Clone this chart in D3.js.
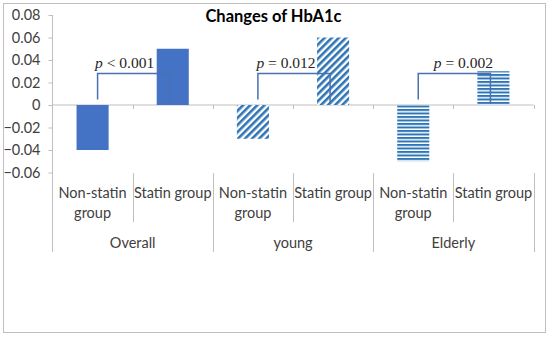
<!DOCTYPE html>
<html lang="en">
    <head>
        <meta charset="utf-8">
        <title>Changes of HbA1c</title>
        <script src="https://d3js.org/d3.v7.min.js"></script>
        <style type="text/css">
            body { margin: 0; background: #fff; }
            text { font-family: Lato, "Noto Sans", sans-serif; fill: #404040; }
        </style>
    </head>
    <body>
        <svg id="chart" width="550" height="337"></svg>
        <script>
            //Data
            var groups = ['Overall', 'young', 'Elderly'];
            var subgroups = ['Non-statin group', 'Statin group'];
            var nonStatin = [-0.04, -0.03, -0.05];
            var statin = [0.05, 0.06, 0.03];
            var pLabels = ['< 0.001', '= 0.012', '= 0.002'];
            var yTicks = [0.08, 0.06, 0.04, 0.02, 0, -0.02, -0.04, -0.06];
            var fills = ['url(#solid)', 'url(#diag)', 'url(#horiz)'];

            var svg = d3.select('#chart');

            //outer frame
            svg.append('rect')
               .attr('x', 3.5).attr('y', 3.5)
               .attr('width', 542).attr('height', 329)
               .attr('fill', '#fff')
               .attr('stroke', '#bfbfbf');

            //patterns
            var defs = svg.append('defs');
            defs.append('pattern').attr('id', 'solid')
                .attr('patternUnits', 'userSpaceOnUse')
                .attr('width', 4).attr('height', 4)
              .append('rect').attr('width', 4).attr('height', 4).attr('fill', '#4472c4');

            var diag = defs.append('pattern').attr('id', 'diag')
                .attr('patternUnits', 'userSpaceOnUse')
                .attr('width', 5).attr('height', 5)
                .attr('patternTransform', 'rotate(45)');
            diag.append('rect').attr('width', 5).attr('height', 5).attr('fill', '#fff');
            diag.append('rect').attr('width', 2.6).attr('height', 5).attr('fill', '#2e75b6');

            var horiz = defs.append('pattern').attr('id', 'horiz')
                .attr('patternUnits', 'userSpaceOnUse')
                .attr('width', 4).attr('height', 3.5)
                .attr('y', 0.5);
            horiz.append('rect').attr('width', 4).attr('height', 3.5).attr('fill', '#fff');
            horiz.append('rect').attr('width', 4).attr('height', 2).attr('fill', '#2e75b6');

            //scales
            var x0 = d3.scaleBand().domain(groups).range([52.5, 533.5]);
            var x1 = d3.scaleBand().domain(subgroups)
                       .range([0, x0.bandwidth()])
                       .paddingInner(0.6).paddingOuter(0.3);
            var y = d3.scaleLinear().domain([-0.06, 0.08]).range([172.5, 15]);

            var axisColor = '#bfbfbf';

            //y axis
            var yAxis = d3.axisLeft(y).tickValues(yTicks).tickSize(4).tickPadding(8)
                          .tickFormat(function(d) { return d === 0 ? '0' : d3.format('.2f')(d); });
            var gy = svg.append('g')
                        .attr('transform', 'translate(52.5,0)')
                        .call(yAxis);
            gy.select('.domain').remove();
            gy.selectAll('line').attr('stroke', axisColor);
            gy.selectAll('text').style('font-size', '14.5px').style('fill', '#404040')
              .attr('font-family', null);
            //vertical axis line, running down through the label area
            svg.append('line')
               .attr('x1', 52.5).attr('x2', 52.5)
               .attr('y1', y(0.08)).attr('y2', 252)
               .attr('stroke', axisColor);

            //horizontal axis at zero
            svg.append('line')
               .attr('x1', 52.5).attr('x2', 533.5)
               .attr('y1', y(0)).attr('y2', y(0))
               .attr('stroke', axisColor);
            groups.forEach(function(g) {
                subgroups.forEach(function(s) {
                    var bx = x0(g) + x1(s) + x1.bandwidth() / 2 + x1.step() / 2;
                    svg.append('line')
                       .attr('x1', Math.round(bx) + 0.5).attr('x2', Math.round(bx) + 0.5)
                       .attr('y1', y(0)).attr('y2', y(0) + 4)
                       .attr('stroke', axisColor);
                });
            });

            //bars
            groups.forEach(function(g, i) {
                var vals = [nonStatin[i], statin[i]];
                svg.append('g').selectAll('rect')
                   .data(vals)
                   .enter()
                   .append('rect')
                   .attr('x', function(d, j) { return x0(g) + x1(subgroups[j]); })
                   .attr('width', x1.bandwidth())
                   .attr('y', function(d) { return y(Math.max(0, d)); })
                   .attr('height', function(d) { return Math.abs(y(d) - y(0)); })
                   .attr('fill', fills[i]);
            });

            //significance brackets
            var bracketColor = '#4a70b0';
            var textShift = [-8, -7, 10];
            groups.forEach(function(g, i) {
                var left = x0(g) + x1(subgroups[0]) + x1.bandwidth() / 2 + 5;
                var right = x0(g) + x1(subgroups[1]) + x1.bandwidth() / 2 - 3;
                var top = y(0.028);
                svg.append('path')
                   .attr('d', 'M' + left + ',' + y(0.005) + 'V' + top + 'H' + right + 'V' + y(0.001))
                   .attr('fill', 'none')
                   .attr('stroke', bracketColor)
                   .attr('stroke-width', 1.5);
                var t = svg.append('text')
                   .attr('x', x0(g) + x0.bandwidth() / 2 + textShift[i])
                   .attr('y', 67.5)
                   .attr('text-anchor', 'middle')
                   .style('font-family', '"Liberation Serif", "DejaVu Serif", serif')
                   .style('font-size', '15.5px')
                   .style('fill', '#262626');
                t.append('tspan').style('font-style', 'italic').text('p');
                t.append('tspan').text(' ' + pLabels[i]);
            });

            //category labels
            groups.forEach(function(g) {
                subgroups.forEach(function(s, j) {
                    var cx = x0(g) + x1(s) + x1.bandwidth() / 2;
                    var lines = j === 0 ? ['Non-statin', 'group'] : ['Statin group'];
                    lines.forEach(function(l, k) {
                        svg.append('text')
                           .attr('x', cx).attr('y', 198 + k * 20)
                           .attr('text-anchor', 'middle')
                           .style('font-size', '14.5px')
                           .text(l);
                    });
                });
                //divider inside group
                var mid = Math.round(x0(g) + x0.bandwidth() / 2) + 0.5;
                svg.append('line')
                   .attr('x1', mid).attr('x2', mid)
                   .attr('y1', 173).attr('y2', 222)
                   .attr('stroke', axisColor);
                //divider at group end
                var end = Math.round(x0(g) + x0.bandwidth()) + 0.5;
                svg.append('line')
                   .attr('x1', end).attr('x2', end)
                   .attr('y1', 173).attr('y2', 252)
                   .attr('stroke', axisColor);
                svg.append('text')
                   .attr('x', x0(g) + x0.bandwidth() / 2).attr('y', 248)
                   .attr('text-anchor', 'middle')
                   .style('font-size', '14.5px')
                   .text(g);
            });

            //title
            svg.append('text')
               .attr('x', 273.5).attr('y', 22)
               .attr('text-anchor', 'middle')
               .style('font-size', '16.5px')
               .style('font-weight', 'bold')
               .style('fill', '#000')
               .text('Changes of HbA1c');
        </script>
    </body>
</html>
